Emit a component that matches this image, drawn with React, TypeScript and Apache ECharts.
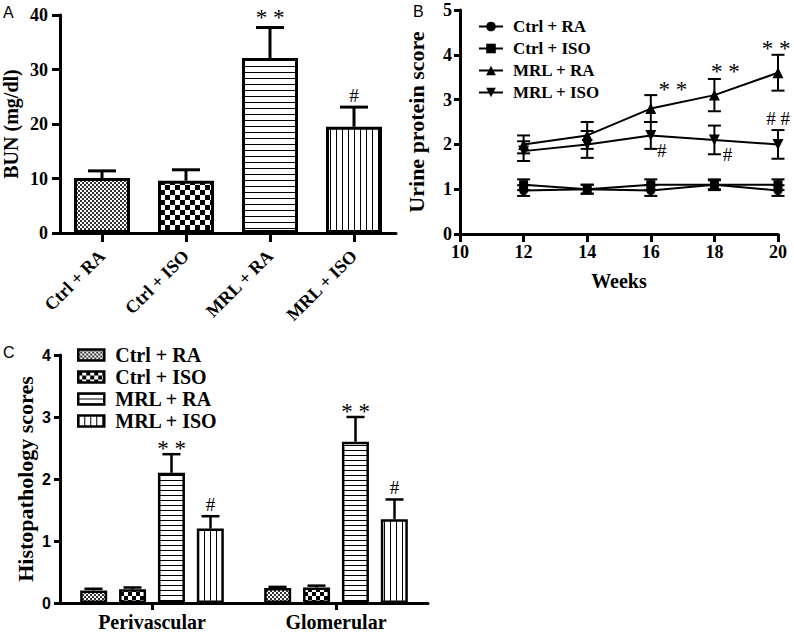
import React, { useEffect, useRef } from 'react';
import * as echarts from 'echarts';

// ---------- data ----------
const groups = ['Ctrl + RA', 'Ctrl + ISO', 'MRL + RA', 'MRL + ISO'];

// Panel A: BUN (mg/dl)
const bunMean = [10.1, 9.6, 32.1, 19.5];
const bunErr = [1.3, 2.0, 5.6, 3.6];
const bunMarks = ['', '', '* *', '#'];

// Panel B: urine protein score
const weeks = [12, 14, 16, 18, 20];
const ctrlRaProtein = [0.97, 1.0, 0.97, 1.1, 0.97];
const ctrlRaProteinErr = [0.12, 0.1, 0.12, 0.12, 0.12];
const ctrlIsoProtein = [1.1, 1.0, 1.1, 1.1, 1.1];
const ctrlIsoProteinErr = [0.12, 0.1, 0.12, 0.1, 0.12];
const mrlRaProtein = [2.0, 2.2, 2.8, 3.1, 3.6];
const mrlRaProteinErr = [0.2, 0.3, 0.3, 0.36, 0.4];
const mrlIsoProtein = [1.85, 2.0, 2.2, 2.1, 2.0];
const mrlIsoProteinErr = [0.22, 0.3, 0.3, 0.32, 0.32];
// significance marks: [group index, week index, text, edge of error bar]
const proteinMarks: [number, number, string, string][] = [
  [2, 2, '* *', 'top'],
  [2, 3, '* *', 'top'],
  [2, 4, '* *', 'top'],
  [3, 2, '#', 'bottom'],
  [3, 3, '#', 'bottom'],
  [3, 4, '# #', 'top'],
];

// Panel C: histopathology scores
const histoCategories = ['Perivascular', 'Glomerular'];
const ctrlRaHisto = [0.2, 0.24];
const ctrlRaHistoErr = [0.03, 0.02];
const ctrlIsoHisto = [0.22, 0.25];
const ctrlIsoHistoErr = [0.03, 0.03];
const mrlRaHisto = [2.1, 2.6];
const mrlRaHistoErr = [0.3, 0.4];
const mrlIsoHisto = [1.2, 1.35];
const mrlIsoHistoErr = [0.2, 0.32];
const histoMarks = [['', ''], ['', ''], ['* *', '* *'], ['#', '#']];

// ---------- styles ----------
const SERIF = '"Liberation Serif", "Times New Roman", serif';
const SANS = '"Liberation Sans", Arial, sans-serif';
const STAR_SIZE = 23;
const STAR_LIFT = 2; // asterisk ink sits about this far above the text's middle
const markOffsetsB: [number, number][] = [[22, -8 + STAR_LIFT], [11, -9 + STAR_LIFT], [-2, -8 + STAR_LIFT], [11, 2], [13, 0], [0, -12]];
const lineSymbols = [
  { symbol: 'circle', size: 9, rotate: 0 },
  { symbol: 'rect', size: 9, rotate: 0 },
  { symbol: 'triangle', size: 11, rotate: 0 },
  { symbol: 'triangle', size: 11, rotate: 180 },
];

function pattern(kind: string, cell: number, color = '#000') {
  const c = document.createElement('canvas');
  let w = cell * 2;
  let h = cell * 2;
  if (kind === 'hlines') { w = 4; h = cell; }
  if (kind === 'vlines') { w = cell; h = 4; }
  c.width = w;
  c.height = h;
  const ctx = c.getContext('2d')!;
  ctx.fillStyle = '#fff';
  ctx.fillRect(0, 0, w, h);
  ctx.fillStyle = color;
  if (kind === 'check') {
    ctx.fillRect(0, 0, cell, cell);
    ctx.fillRect(cell, cell, cell, cell);
  } else if (kind === 'hlines') {
    ctx.fillRect(0, 0, w, 1);
  } else if (kind === 'vlines') {
    ctx.fillRect(0, 0, 1, h);
  }
  return { image: c.toDataURL(), repeat: 'repeat', imageWidth: w, imageHeight: h } as any;
}

export default function App() {
  const ref = useRef<HTMLDivElement>(null);
  useEffect(() => {
    if (!ref.current) return;
    const chart = echarts.init(ref.current, null, { renderer: 'svg' });

    const patA = [pattern('check', 2, '#333'), pattern('check', 5), pattern('hlines', 6), pattern('vlines', 6)];
    const patC = [pattern('check', 2, '#333'), pattern('check', 4), pattern('hlines', 5), pattern('vlines', 6)];

    const axisLine = { show: true, onZero: false, lineStyle: { color: '#000', width: 3 } };
    const tick = (len: number, align = false) => ({ show: true, length: len, alignWithLabel: align, lineStyle: { color: '#000', width: 3 } });
    const serifBold = (size: number) => ({ fontFamily: SERIF, fontWeight: 'bold' as const, fontSize: size, color: '#000' });

    const proteinVals = [ctrlRaProtein, ctrlIsoProtein, mrlRaProtein, mrlIsoProtein];
    const proteinErrs = [ctrlRaProteinErr, ctrlIsoProteinErr, mrlRaProteinErr, mrlIsoProteinErr];
    const histoVals = [ctrlRaHisto, ctrlIsoHisto, mrlRaHisto, mrlIsoHisto];
    const histoErrs = [ctrlRaHistoErr, ctrlIsoHistoErr, mrlRaHistoErr, mrlIsoHistoErr];
    const cNames = groups.map((g) => 'C: ' + g);

    const textEl = (x: number, y: number, text: string, size: number) => ({
      type: 'text', x, y,
      style: { text, fill: '#000', fontFamily: SERIF, fontSize: size, align: 'center', verticalAlign: 'middle' },
    });
    const markSize = (t: string) => (t.includes('*') ? STAR_SIZE : 19);

    const errData: any[] = [];
    proteinVals.forEach((vals, s) => vals.forEach((v, i) => errData.push([weeks[i], v, proteinErrs[s][i]])));
    const markData = proteinMarks.map(([s, i, , edge]) => [
      weeks[i],
      edge === 'top' ? proteinVals[s][i] + proteinErrs[s][i] : proteinVals[s][i] - proteinErrs[s][i],
    ]);
    const histoErrData: any[] = [];
    histoVals.forEach((vals, s) => vals.forEach((v, c) => histoErrData.push([c, v, histoErrs[s][c], s])));

    const option: any = {
      animation: false,
      backgroundColor: '#fff',
      graphic: [
        { type: 'text', left: 3, top: 4, style: { text: 'A', font: '16px ' + SANS, fill: '#000' } },
        { type: 'text', left: 413, top: 3, style: { text: 'B', font: '16px ' + SANS, fill: '#000' } },
        { type: 'text', left: 3, top: 344, style: { text: 'C', font: '16px ' + SANS, fill: '#000' } },
      ],
      grid: [
        { left: 60, right: 398, top: 15, bottom: 400 },
        { left: 460, right: 16, top: 10, bottom: 399 },
        { left: 60, right: 366, top: 355, bottom: 30 },
      ],
      legend: [
        {
          orient: 'vertical', left: 473, top: 13, itemWidth: 24, itemHeight: 12, itemGap: 5,
          selectedMode: false, data: groups,
          textStyle: { ...serifBold(17), padding: [0, 0, 0, 5] },
        },
        {
          orient: 'vertical', left: 72, top: 340, itemWidth: 26, itemHeight: 11, itemGap: 2,
          selectedMode: false, icon: 'rect', data: cNames,
          formatter: (n: string) => n.replace(/^C: /, ''),
          itemStyle: { borderColor: '#000', borderWidth: 2.5 },
          textStyle: { ...serifBold(20), padding: [0, 0, 0, 6] },
        },
      ],
      xAxis: [
        {
          gridIndex: 0, type: 'category', data: groups,
          axisLine, axisTick: tick(9, true),
          axisLabel: { ...serifBold(18), rotate: 45, margin: 20, interval: 0 },
        },
        {
          gridIndex: 1, type: 'value', min: 10, max: 20, interval: 2,
          axisLine, axisTick: tick(8), splitLine: { show: false },
          axisLabel: { ...serifBold(18), margin: 9 },
          name: 'Weeks', nameLocation: 'middle', nameGap: 37, nameTextStyle: serifBold(20),
        },
        {
          gridIndex: 2, type: 'category', data: histoCategories,
          axisLine, axisTick: tick(7, true),
          axisLabel: { ...serifBold(20), margin: 9 },
        },
      ],
      yAxis: [
        {
          gridIndex: 0, type: 'value', min: 0, max: 40, interval: 10,
          axisLine, axisTick: tick(8), splitLine: { show: false },
          axisLabel: { ...serifBold(18), margin: 12 },
          name: 'BUN (mg/dl)', nameLocation: 'middle', nameGap: 39, nameTextStyle: serifBold(20),
        },
        {
          gridIndex: 1, type: 'value', min: 0, max: 5, interval: 1,
          axisLine, axisTick: tick(6), splitLine: { show: false },
          axisLabel: { ...serifBold(18), margin: 8 },
          name: 'Urine protein score', nameLocation: 'middle', nameGap: 33, nameTextStyle: serifBold(22),
        },
        {
          gridIndex: 2, type: 'value', min: 0, max: 4, interval: 1,
          axisLine, axisTick: tick(6), splitLine: { show: false },
          axisLabel: { fontFamily: SANS, fontWeight: 'bold', fontSize: 16, color: '#000', margin: 9 },
          name: 'Histopathology scores', nameLocation: 'middle', nameGap: 24, nameTextStyle: serifBold(22),
        },
      ],
      series: [
        // Panel A bars
        {
          type: 'bar', name: 'BUN', xAxisIndex: 0, yAxisIndex: 0, barWidth: 56,
          data: bunMean.map((v, i) => ({ value: v, itemStyle: { color: patA[i], borderColor: '#000', borderWidth: 3 } })),
        },
        {
          type: 'custom', name: 'BUN error', xAxisIndex: 0, yAxisIndex: 0, silent: true, z: 5,
          encode: { x: 0, y: 1 },
          data: bunMean.map((v, i) => [i, v, bunErr[i]]),
          renderItem: (params: any, api: any) => {
            const i = api.value(0), m = api.value(1), e = api.value(2);
            const b = api.coord([i, m]);
            const t = api.coord([i, m + e]);
            const st = { stroke: '#000', lineWidth: 3 };
            const children: any[] = [
              { type: 'line', shape: { x1: b[0], y1: b[1], x2: t[0], y2: t[1] }, style: st },
              { type: 'line', shape: { x1: t[0] - 14, y1: t[1], x2: t[0] + 14, y2: t[1] }, style: st },
            ];
            const mk = bunMarks[params.dataIndex];
            if (mk) children.push(textEl(t[0], t[1] + (mk === '#' ? -12 : -12 + STAR_LIFT), mk, markSize(mk)));
            return { type: 'group', children };
          },
        },
        // Panel B lines
        ...proteinVals.map((vals, s) => ({
          type: 'line', name: groups[s], xAxisIndex: 1, yAxisIndex: 1,
          data: weeks.map((w, i) => [w, vals[i]]),
          symbol: lineSymbols[s].symbol, symbolSize: lineSymbols[s].size, symbolRotate: lineSymbols[s].rotate,
          itemStyle: { color: '#000' }, lineStyle: { color: '#000', width: 2 }, z: 3,
        })),
        {
          type: 'custom', name: 'protein error', xAxisIndex: 1, yAxisIndex: 1, silent: true, z: 4,
          encode: { x: 0, y: 1 },
          data: errData,
          renderItem: (params: any, api: any) => {
            const x = api.value(0), m = api.value(1), e = api.value(2);
            const t = api.coord([x, m + e]);
            const b = api.coord([x, m - e]);
            const st = { stroke: '#000', lineWidth: 2 };
            return {
              type: 'group', children: [
                { type: 'line', shape: { x1: t[0], y1: t[1], x2: b[0], y2: b[1] }, style: st },
                { type: 'line', shape: { x1: t[0] - 6.5, y1: t[1], x2: t[0] + 6.5, y2: t[1] }, style: st },
                { type: 'line', shape: { x1: b[0] - 6.5, y1: b[1], x2: b[0] + 6.5, y2: b[1] }, style: st },
              ],
            };
          },
        },
        {
          type: 'custom', name: 'protein marks', xAxisIndex: 1, yAxisIndex: 1, silent: true, z: 6,
          encode: { x: 0, y: 1 },
          data: markData,
          renderItem: (params: any, api: any) => {
            const p = api.coord([api.value(0), api.value(1)]);
            const [dx, dy] = markOffsetsB[params.dataIndex];
            const txt = proteinMarks[params.dataIndex][2];
            return textEl(p[0] + dx, p[1] + dy, txt, markSize(txt));
          },
        },
        // Panel C bars
        ...histoVals.map((vals, s) => ({
          type: 'bar', name: cNames[s], xAxisIndex: 2, yAxisIndex: 2, barWidth: 27, barGap: '44%',
          data: vals,
          itemStyle: { color: patC[s], borderColor: '#000', borderWidth: 2.5 },
        })),
        {
          type: 'custom', name: 'histo error', xAxisIndex: 2, yAxisIndex: 2, silent: true, z: 5,
          encode: { x: 0, y: 1 },
          data: histoErrData,
          renderItem: (params: any, api: any) => {
            const c = api.value(0), m = api.value(1), e = api.value(2), s = api.value(3);
            const off = (s - 1.5) * 39;
            const b = api.coord([c, m]);
            const t = api.coord([c, m + e]);
            const x = b[0] + off;
            const st = { stroke: '#000', lineWidth: 2.5 };
            const children: any[] = [
              { type: 'line', shape: { x1: x, y1: b[1], x2: x, y2: t[1] }, style: st },
              { type: 'line', shape: { x1: x - 9, y1: t[1], x2: x + 9, y2: t[1] }, style: st },
            ];
            const mk = histoMarks[s][c];
            if (mk) children.push(textEl(x, t[1] + (mk === '#' ? -12 : -8 + STAR_LIFT), mk, markSize(mk)));
            return { type: 'group', children };
          },
        },
      ],
    };
    chart.setOption(option);
    return () => chart.dispose();
  }, []);
  return <div ref={ref} style={{ position: 'absolute', left: 0, top: 0, width: 794, height: 633 }} />;
}
